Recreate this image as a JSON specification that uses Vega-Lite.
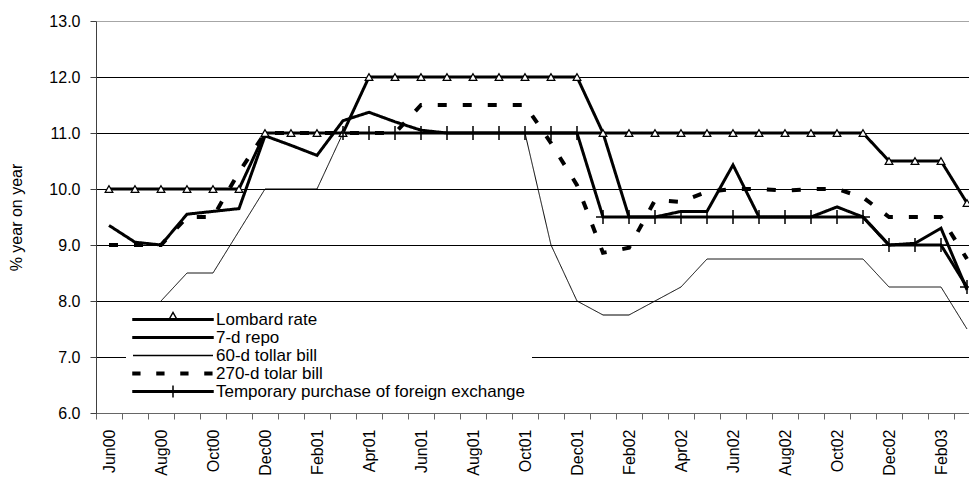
{
  "$schema": "https://vega.github.io/schema/vega-lite/v6.json",
  "width": 873,
  "height": 392,
  "autosize": {"type": "none"},
  "padding": {"left": 96, "top": 21, "right": 0, "bottom": 70},
  "background": "white",
  "config": {"view": {"stroke": null}, "font": "Liberation Sans"},
  "data": {
    "values": [
      {"month": "Jun00", "series": "Lombard rate", "rate": 10},
      {"month": "Jul00", "series": "Lombard rate", "rate": 10},
      {"month": "Aug00", "series": "Lombard rate", "rate": 10},
      {"month": "Sep00", "series": "Lombard rate", "rate": 10},
      {"month": "Oct00", "series": "Lombard rate", "rate": 10},
      {"month": "Nov00", "series": "Lombard rate", "rate": 10},
      {"month": "Dec00", "series": "Lombard rate", "rate": 11},
      {"month": "Jan01", "series": "Lombard rate", "rate": 11},
      {"month": "Feb01", "series": "Lombard rate", "rate": 11},
      {"month": "Mar01", "series": "Lombard rate", "rate": 11},
      {"month": "Apr01", "series": "Lombard rate", "rate": 12},
      {"month": "May01", "series": "Lombard rate", "rate": 12},
      {"month": "Jun01", "series": "Lombard rate", "rate": 12},
      {"month": "Jul01", "series": "Lombard rate", "rate": 12},
      {"month": "Aug01", "series": "Lombard rate", "rate": 12},
      {"month": "Sep01", "series": "Lombard rate", "rate": 12},
      {"month": "Oct01", "series": "Lombard rate", "rate": 12},
      {"month": "Nov01", "series": "Lombard rate", "rate": 12},
      {"month": "Dec01", "series": "Lombard rate", "rate": 12},
      {"month": "Jan02", "series": "Lombard rate", "rate": 11},
      {"month": "Feb02", "series": "Lombard rate", "rate": 11},
      {"month": "Mar02", "series": "Lombard rate", "rate": 11},
      {"month": "Apr02", "series": "Lombard rate", "rate": 11},
      {"month": "May02", "series": "Lombard rate", "rate": 11},
      {"month": "Jun02", "series": "Lombard rate", "rate": 11},
      {"month": "Jul02", "series": "Lombard rate", "rate": 11},
      {"month": "Aug02", "series": "Lombard rate", "rate": 11},
      {"month": "Sep02", "series": "Lombard rate", "rate": 11},
      {"month": "Oct02", "series": "Lombard rate", "rate": 11},
      {"month": "Nov02", "series": "Lombard rate", "rate": 11},
      {"month": "Dec02", "series": "Lombard rate", "rate": 10.5},
      {"month": "Jan03", "series": "Lombard rate", "rate": 10.5},
      {"month": "Feb03", "series": "Lombard rate", "rate": 10.5},
      {"month": "Mar03", "series": "Lombard rate", "rate": 9.75},

      {"month": "Jun00", "series": "7-d repo", "rate": 9.35},
      {"month": "Jul00", "series": "7-d repo", "rate": 9.05},
      {"month": "Aug00", "series": "7-d repo", "rate": 9.0},
      {"month": "Sep00", "series": "7-d repo", "rate": 9.55},
      {"month": "Oct00", "series": "7-d repo", "rate": 9.6},
      {"month": "Nov00", "series": "7-d repo", "rate": 9.65},
      {"month": "Dec00", "series": "7-d repo", "rate": 10.95},
      {"month": "Jan01", "series": "7-d repo", "rate": 10.78},
      {"month": "Feb01", "series": "7-d repo", "rate": 10.6},
      {"month": "Mar01", "series": "7-d repo", "rate": 11.22},
      {"month": "Apr01", "series": "7-d repo", "rate": 11.37},
      {"month": "May01", "series": "7-d repo", "rate": 11.2},
      {"month": "Jun01", "series": "7-d repo", "rate": 11.05},
      {"month": "Jul01", "series": "7-d repo", "rate": 11},
      {"month": "Aug01", "series": "7-d repo", "rate": 11},
      {"month": "Sep01", "series": "7-d repo", "rate": 11},
      {"month": "Oct01", "series": "7-d repo", "rate": 11},
      {"month": "Nov01", "series": "7-d repo", "rate": 11},
      {"month": "Dec01", "series": "7-d repo", "rate": 11},
      {"month": "Jan02", "series": "7-d repo", "rate": 11},
      {"month": "Feb02", "series": "7-d repo", "rate": 9.5},
      {"month": "Mar02", "series": "7-d repo", "rate": 9.5},
      {"month": "Apr02", "series": "7-d repo", "rate": 9.6},
      {"month": "May02", "series": "7-d repo", "rate": 9.6},
      {"month": "Jun02", "series": "7-d repo", "rate": 10.43},
      {"month": "Jul02", "series": "7-d repo", "rate": 9.5},
      {"month": "Aug02", "series": "7-d repo", "rate": 9.5},
      {"month": "Sep02", "series": "7-d repo", "rate": 9.5},
      {"month": "Oct02", "series": "7-d repo", "rate": 9.68},
      {"month": "Nov02", "series": "7-d repo", "rate": 9.5},
      {"month": "Dec02", "series": "7-d repo", "rate": 9.0},
      {"month": "Jan03", "series": "7-d repo", "rate": 9.03},
      {"month": "Feb03", "series": "7-d repo", "rate": 9.3},
      {"month": "Mar03", "series": "7-d repo", "rate": 8.2},

      {"month": "Aug00", "series": "60-d tollar bill", "rate": 8.0},
      {"month": "Sep00", "series": "60-d tollar bill", "rate": 8.5},
      {"month": "Oct00", "series": "60-d tollar bill", "rate": 8.5},
      {"month": "Nov00", "series": "60-d tollar bill", "rate": 9.25},
      {"month": "Dec00", "series": "60-d tollar bill", "rate": 10},
      {"month": "Jan01", "series": "60-d tollar bill", "rate": 10},
      {"month": "Feb01", "series": "60-d tollar bill", "rate": 10},
      {"month": "Mar01", "series": "60-d tollar bill", "rate": 11},
      {"month": "Apr01", "series": "60-d tollar bill", "rate": 11},
      {"month": "May01", "series": "60-d tollar bill", "rate": 11},
      {"month": "Jun01", "series": "60-d tollar bill", "rate": 11},
      {"month": "Jul01", "series": "60-d tollar bill", "rate": 11},
      {"month": "Aug01", "series": "60-d tollar bill", "rate": 11},
      {"month": "Sep01", "series": "60-d tollar bill", "rate": 11},
      {"month": "Oct01", "series": "60-d tollar bill", "rate": 11},
      {"month": "Nov01", "series": "60-d tollar bill", "rate": 9},
      {"month": "Dec01", "series": "60-d tollar bill", "rate": 8},
      {"month": "Jan02", "series": "60-d tollar bill", "rate": 7.75},
      {"month": "Feb02", "series": "60-d tollar bill", "rate": 7.75},
      {"month": "Mar02", "series": "60-d tollar bill", "rate": 8},
      {"month": "Apr02", "series": "60-d tollar bill", "rate": 8.25},
      {"month": "May02", "series": "60-d tollar bill", "rate": 8.75},
      {"month": "Jun02", "series": "60-d tollar bill", "rate": 8.75},
      {"month": "Jul02", "series": "60-d tollar bill", "rate": 8.75},
      {"month": "Aug02", "series": "60-d tollar bill", "rate": 8.75},
      {"month": "Sep02", "series": "60-d tollar bill", "rate": 8.75},
      {"month": "Oct02", "series": "60-d tollar bill", "rate": 8.75},
      {"month": "Nov02", "series": "60-d tollar bill", "rate": 8.75},
      {"month": "Dec02", "series": "60-d tollar bill", "rate": 8.25},
      {"month": "Jan03", "series": "60-d tollar bill", "rate": 8.25},
      {"month": "Feb03", "series": "60-d tollar bill", "rate": 8.25},
      {"month": "Mar03", "series": "60-d tollar bill", "rate": 7.5},

      {"month": "Jun00", "series": "270-d tolar bill", "rate": 9},
      {"month": "Jul00", "series": "270-d tolar bill", "rate": 9},
      {"month": "Aug00", "series": "270-d tolar bill", "rate": 9},
      {"month": "Sep00", "series": "270-d tolar bill", "rate": 9.5},
      {"month": "Oct00", "series": "270-d tolar bill", "rate": 9.5},
      {"month": "Nov00", "series": "270-d tolar bill", "rate": 10.3},
      {"month": "Dec00", "series": "270-d tolar bill", "rate": 11},
      {"month": "Jan01", "series": "270-d tolar bill", "rate": 11},
      {"month": "Feb01", "series": "270-d tolar bill", "rate": 11},
      {"month": "Mar01", "series": "270-d tolar bill", "rate": 11},
      {"month": "Apr01", "series": "270-d tolar bill", "rate": 11},
      {"month": "May01", "series": "270-d tolar bill", "rate": 11},
      {"month": "Jun01", "series": "270-d tolar bill", "rate": 11.5},
      {"month": "Jul01", "series": "270-d tolar bill", "rate": 11.5},
      {"month": "Aug01", "series": "270-d tolar bill", "rate": 11.5},
      {"month": "Sep01", "series": "270-d tolar bill", "rate": 11.5},
      {"month": "Oct01", "series": "270-d tolar bill", "rate": 11.5},
      {"month": "Nov01", "series": "270-d tolar bill", "rate": 10.82},
      {"month": "Dec01", "series": "270-d tolar bill", "rate": 10.07},
      {"month": "Jan02", "series": "270-d tolar bill", "rate": 8.86},
      {"month": "Feb02", "series": "270-d tolar bill", "rate": 8.95},
      {"month": "Mar02", "series": "270-d tolar bill", "rate": 9.8},
      {"month": "Apr02", "series": "270-d tolar bill", "rate": 9.77},
      {"month": "May02", "series": "270-d tolar bill", "rate": 9.95},
      {"month": "Jun02", "series": "270-d tolar bill", "rate": 10},
      {"month": "Jul02", "series": "270-d tolar bill", "rate": 10},
      {"month": "Aug02", "series": "270-d tolar bill", "rate": 9.97},
      {"month": "Sep02", "series": "270-d tolar bill", "rate": 10},
      {"month": "Oct02", "series": "270-d tolar bill", "rate": 10},
      {"month": "Nov02", "series": "270-d tolar bill", "rate": 9.85},
      {"month": "Dec02", "series": "270-d tolar bill", "rate": 9.5},
      {"month": "Jan03", "series": "270-d tolar bill", "rate": 9.5},
      {"month": "Feb03", "series": "270-d tolar bill", "rate": 9.5},
      {"month": "Mar03", "series": "270-d tolar bill", "rate": 8.75},

      {"month": "Mar01", "series": "Temporary purchase of foreign exchange", "rate": 11},
      {"month": "Apr01", "series": "Temporary purchase of foreign exchange", "rate": 11},
      {"month": "May01", "series": "Temporary purchase of foreign exchange", "rate": 11},
      {"month": "Jun01", "series": "Temporary purchase of foreign exchange", "rate": 11},
      {"month": "Jul01", "series": "Temporary purchase of foreign exchange", "rate": 11},
      {"month": "Aug01", "series": "Temporary purchase of foreign exchange", "rate": 11},
      {"month": "Sep01", "series": "Temporary purchase of foreign exchange", "rate": 11},
      {"month": "Oct01", "series": "Temporary purchase of foreign exchange", "rate": 11},
      {"month": "Nov01", "series": "Temporary purchase of foreign exchange", "rate": 11},
      {"month": "Dec01", "series": "Temporary purchase of foreign exchange", "rate": 11},
      {"month": "Jan02", "series": "Temporary purchase of foreign exchange", "rate": 9.5},
      {"month": "Feb02", "series": "Temporary purchase of foreign exchange", "rate": 9.5},
      {"month": "Mar02", "series": "Temporary purchase of foreign exchange", "rate": 9.5},
      {"month": "Apr02", "series": "Temporary purchase of foreign exchange", "rate": 9.5},
      {"month": "May02", "series": "Temporary purchase of foreign exchange", "rate": 9.5},
      {"month": "Jun02", "series": "Temporary purchase of foreign exchange", "rate": 9.5},
      {"month": "Jul02", "series": "Temporary purchase of foreign exchange", "rate": 9.5},
      {"month": "Aug02", "series": "Temporary purchase of foreign exchange", "rate": 9.5},
      {"month": "Sep02", "series": "Temporary purchase of foreign exchange", "rate": 9.5},
      {"month": "Oct02", "series": "Temporary purchase of foreign exchange", "rate": 9.5},
      {"month": "Nov02", "series": "Temporary purchase of foreign exchange", "rate": 9.5},
      {"month": "Dec02", "series": "Temporary purchase of foreign exchange", "rate": 9},
      {"month": "Jan03", "series": "Temporary purchase of foreign exchange", "rate": 9},
      {"month": "Feb03", "series": "Temporary purchase of foreign exchange", "rate": 9},
      {"month": "Mar03", "series": "Temporary purchase of foreign exchange", "rate": 8.25}
    ]
  },
  "encoding": {
    "x": {
      "field": "month",
      "type": "ordinal",
      "sort": ["Jun00","Jul00","Aug00","Sep00","Oct00","Nov00","Dec00","Jan01","Feb01","Mar01","Apr01","May01","Jun01","Jul01","Aug01","Sep01","Oct01","Nov01","Dec01","Jan02","Feb02","Mar02","Apr02","May02","Jun02","Jul02","Aug02","Sep02","Oct02","Nov02","Dec02","Jan03","Feb03","Mar03"],
      "scale": {
        "type": "band",
        "domain": ["Jun00","Jul00","Aug00","Sep00","Oct00","Nov00","Dec00","Jan01","Feb01","Mar01","Apr01","May01","Jun01","Jul01","Aug01","Sep01","Oct01","Nov01","Dec01","Jan02","Feb02","Mar02","Apr02","May02","Jun02","Jul02","Aug02","Sep02","Oct02","Nov02","Dec02","Jan03","Feb03","Mar03"],
        "range": [0, 884],
        "paddingInner": 0,
        "paddingOuter": 0
      },
      "axis": {
        "title": null,
        "grid": false,
        "tickBand": "extent",
        "tickSize": 6,
        "tickColor": "#666666",
        "domainColor": "#666666",
        "labelAngle": -90,
        "labelPadding": 10,
        "labelFont": "Liberation Sans",
        "labelFontSize": 16,
        "labelColor": "black",
        "labelOverlap": false,
        "labelBound": false,
        "labelExpr": "indexof(['Jun00','Aug00','Oct00','Dec00','Feb01','Apr01','Jun01','Aug01','Oct01','Dec01','Feb02','Apr02','Jun02','Aug02','Oct02','Dec02','Feb03'], datum.value) >= 0 ? datum.value : ''"
      }
    },
    "y": {
      "field": "rate",
      "type": "quantitative",
      "scale": {"domain": [6, 13], "nice": false, "zero": false},
      "axis": {
        "values": [6, 7, 8, 9, 10, 11, 12, 13],
        "format": ".1f",
        "title": "% year on year",
        "titleFont": "Liberation Sans",
        "titleFontSize": 16,
        "titleFontWeight": "normal",
        "titleColor": "black",
        "titleX": -80,
        "titleY": 196,
        "titleAngle": 270,
        "titleAlign": "center",
        "titleBaseline": "middle",
        "grid": true,
        "gridColor": {"condition": {"test": "datum.value === 13", "value": "#a6a6a6"}, "value": "black"},
        "gridWidth": 1,
        "tickSize": 6,
        "tickColor": "#404040",
        "domainColor": "#404040",
        "labelPadding": 10,
        "labelFont": "Liberation Sans",
        "labelFontSize": 16,
        "labelColor": "black"
      }
    }
  },
  "layer": [
    {
      "mark": {"type": "line", "color": "black", "strokeCap": "butt", "strokeJoin": "miter"},
      "encoding": {
        "detail": {"field": "series", "type": "nominal"},
        "order": {"value": null},
        "strokeWidth": {
          "condition": [
            {"test": "datum.series === '60-d tollar bill'", "value": 1},
            {"test": "datum.series === '270-d tolar bill'", "value": 4}
          ],
          "value": 3
        },
        "strokeDash": {
          "condition": {"test": "datum.series === '270-d tolar bill'", "value": [9, 16]},
          "value": [1, 0]
        }
      }
    },
    {
      "transform": [{"filter": "datum.series === 'Lombard rate'"}],
      "mark": {"type": "point", "shape": "triangle-up", "size": 60, "filled": true, "fill": "white", "stroke": "black", "strokeWidth": 1.2, "opacity": 1}
    },
    {
      "transform": [{"filter": "datum.series === 'Temporary purchase of foreign exchange'"}],
      "mark": {"type": "point", "shape": "M-1,0H1M0,-1V1", "size": 196, "filled": false, "stroke": "black", "strokeWidth": 1.5, "opacity": 1}
    },
    {
      "mark": {"type": "point", "filled": false, "color": "black", "strokeWidth": 1.5, "opacity": 0},
      "encoding": {
        "shape": {
          "field": "series",
          "type": "nominal",
          "scale": {
            "domain": ["Lombard rate", "7-d repo", "60-d tollar bill", "270-d tolar bill", "Temporary purchase of foreign exchange"],
            "range": [
              "M-1,-0.019H1V0.019H-1Z M-0.1,0L0,-0.175L0.1,0Z",
              "M-1,-0.019H1V0.019H-1Z",
              "M-1,0H1",
              "M-1,-0.031H-0.83V0.031H-1Z M-1,0H-0.83 M-0.4,-0.031H-0.23V0.031H-0.4Z M-0.4,0H-0.23 M0.2,-0.031H0.37V0.031H0.2Z M0.2,0H0.37 M0.8,-0.031H0.97V0.031H0.8Z M0.8,0H0.97",
              "M-1,-0.019H1V0.019H-1Z M0,-0.15V0.15"
            ]
          },
          "legend": {
            "title": null,
            "orient": "none",
            "legendX": 30,
            "legendY": 284,
            "fillColor": "white",
            "strokeColor": null,
            "padding": 6,
            "rowPadding": 0,
            "clipHeight": 17,
            "symbolSize": 6400,
            "symbolStrokeWidth": 1.5,
            "symbolStrokeColor": "black",
            "symbolFillColor": "transparent",
            "symbolOpacity": 1,
            "labelFont": "Liberation Sans",
            "labelFontSize": 17,
            "labelColor": "black",
            "labelOffset": 2,
            "labelLimit": 500
          }
        }
      }
    }
  ]
}
